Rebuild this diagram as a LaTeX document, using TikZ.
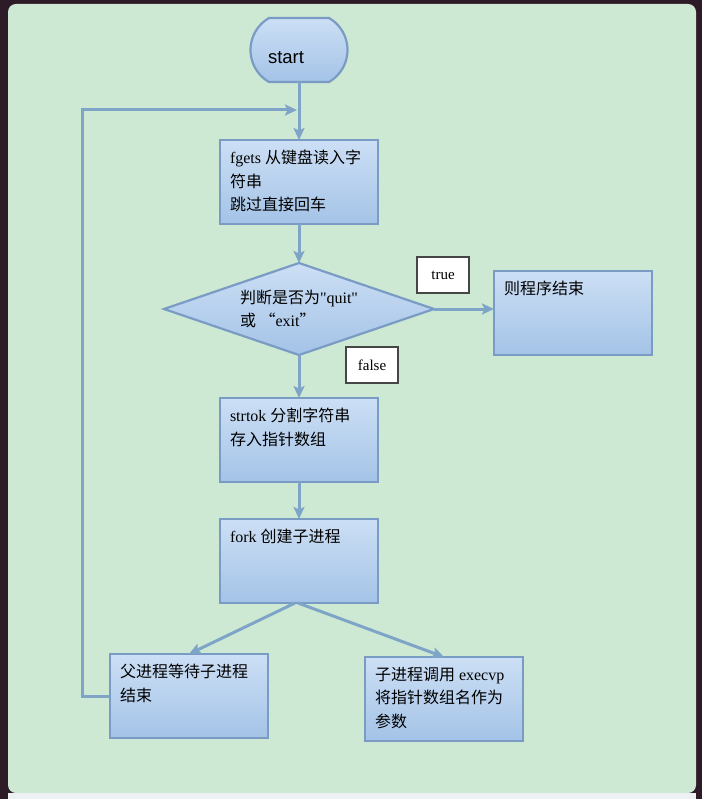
\documentclass[tikz,border=0pt]{standalone}
\usepackage{fontspec}
\setmainfont{Liberation Serif}
\newfontfamily\cjk{Noto Sans CJK SC}
\newfontfamily\startfont{Liberation Sans}
\usetikzlibrary{shapes.geometric,shapes.misc,arrows.meta}

\newlength{\du}
\setlength{\du}{1pt}

\definecolor{screencolor}{RGB}{45,27,40}
\definecolor{panelcolor}{RGB}{205,233,211}
\definecolor{stripcolor}{RGB}{238,241,244}
\definecolor{boxtopcolor}{RGB}{204,223,245}
\definecolor{boxbottomcolor}{RGB}{164,195,231}
\definecolor{boxlinecolor}{RGB}{122,155,196}
\definecolor{flowcolor}{RGB}{126,165,200}
\definecolor{taglinecolor}{RGB}{70,70,70}

\tikzset{
  procbox/.style={rectangle, draw=boxlinecolor, line width=2.2\du,
    top color=boxtopcolor, bottom color=boxbottomcolor, anchor=north west,
    minimum width=158\du, minimum height=84\du, inner sep=0pt, outer sep=0pt,
    font=\fontsize{16\du}{23.5\du}\selectfont},
  termbox/.style={rounded rectangle, rounded rectangle arc length=120,
    draw=boxlinecolor, line width=2.2\du,
    top color=boxtopcolor, bottom color=boxbottomcolor,
    minimum width=97\du, minimum height=64\du, inner sep=0pt, outer sep=0pt,
    text height=27\du, text depth=0pt,
    font=\startfont\fontsize{18.5\du}{20\du}\selectfont},
  decision/.style={diamond, aspect=2.9, draw=boxlinecolor, line width=2.2\du,
    top color=boxtopcolor, bottom color=boxbottomcolor,
    minimum width=270\du, minimum height=92\du, inner sep=0pt, outer sep=0pt,
    align=left, font=\fontsize{16\du}{23\du}\selectfont},
  tagbox/.style={rectangle, draw=taglinecolor, line width=1.2\du, fill=white,
    minimum width=52\du, minimum height=36\du, inner sep=0pt,
    font=\fontsize{15\du}{18\du}\selectfont},
  flow/.style={draw=flowcolor, line width=3\du,
    -{Stealth[length=12pt,width=11pt,inset=2.5pt]}}
}

\newcommand{\boxtext}[1]{\parbox[t][64\du][t]{138\du}{\raggedright #1}}

\begin{document}
\begin{tikzpicture}
\pgftransformxscale{1.000000}
\pgftransformyscale{-1.000000}
% screen behind the slide
\fill[screencolor] (0\du,0\du) rectangle (702\du,799\du);
\fill[panelcolor, rounded corners=8\du] (8\du,4\du) rectangle (696\du,793\du);
\fill[stripcolor] (8\du,793\du) rectangle (696\du,799\du);
\useasboundingbox (0\du,0\du) rectangle (702\du,799\du);

% steps
\node[termbox] (start) at (299\du,50\du) {\hspace*{-26\du}start};
\node[procbox] (read) at (220\du,140\du) {\boxtext{fgets {\cjk 从键盘读入字}\\{\cjk 符串}\\{\cjk 跳过直接回车}}};
\node[decision] (check) at (299\du,309\du) {{\cjk 判断是否为}\textquotedbl quit\textquotedbl\\{\cjk 或~“}exit{\cjk ”}};
\node[procbox] (finish) at (494\du,271\du) {\boxtext{{\cjk 则程序结束}}};
\node[procbox] (split) at (220\du,398\du) {\boxtext{strtok {\cjk 分割字符串}\\{\cjk 存入指针数组}}};
\node[procbox] (fork) at (220\du,519\du) {\boxtext{fork {\cjk 创建子进程}}};
\node[procbox] (parent) at (110\du,654\du) {\boxtext{{\cjk 父进程等待子进程}\\{\cjk 结束}}};
\node[procbox] (child) at (365\du,657\du) {\boxtext{{\cjk 子进程调用}~execvp\\{\cjk 将指针数组名作为}\\{\cjk 参数}}};

% branch tags
\node[tagbox] (yes) at (443\du,275\du) {true};
\node[tagbox] (no) at (372\du,365\du) {false};

% connectors
\coordinate (merge) at (297\du,110\du);
\coordinate (loopbend) at (82\du,110\du);
\draw[flow] (start.south -| read.north) -- (read.north);
\draw[flow] (read.south) -- (read.south |- check.north);
\draw[flow] (check.east) -- (check.east -| finish.west);
\draw[flow] (check.south) -- (check.south |- split.north);
\draw[flow] (split.south) -- (split.south |- fork.north);
\draw[flow] ([xshift=-4\du]fork.south) -- (parent.north);
\draw[flow] ([xshift=-1\du]fork.south) -- (child.north);
\draw[flow] (parent.west) -| (loopbend) -- (merge);
\end{tikzpicture}
\end{document}
